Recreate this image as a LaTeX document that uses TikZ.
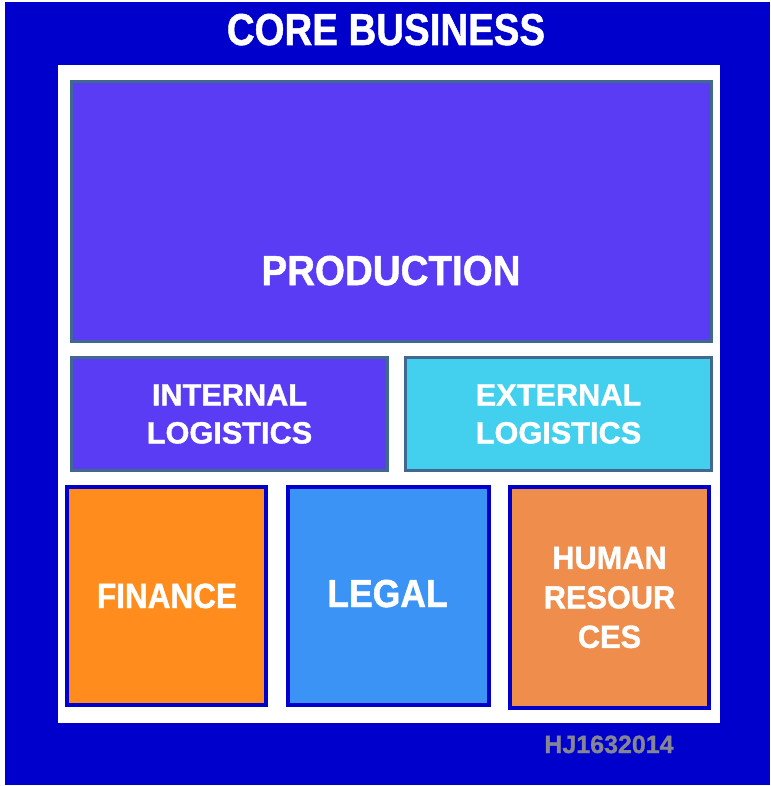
\documentclass[tikz,border=0pt]{standalone}
\usepackage{fontspec}
\setmainfont{Liberation Sans}[BoldFeatures={FakeBold=1.2}]
\definecolor{outerblue}{HTML}{0000CC}
\definecolor{prodc}{HTML}{5A3CF4}
\definecolor{steel}{HTML}{41698F}
\definecolor{extc}{HTML}{42D0EE}
\definecolor{finc}{HTML}{FF8C1C}
\definecolor{legc}{HTML}{3A93F5}
\definecolor{hrc}{HTML}{EE8D4C}
\definecolor{wmark}{HTML}{858595}
\tikzset{
  box/.style={rectangle, inner sep=0pt, outer sep=0pt, text=white, align=center},
  steelbox/.style={box, draw=steel, line width=3pt},
  bluebox/.style={box, draw=outerblue, line width=4pt},
  lbl/.style={text=white, inner sep=0pt, anchor=base},
}
\begin{document}
\begin{tikzpicture}[x=1pt,y=-1pt]
\useasboundingbox (0,0) rectangle (770,786);
\fill[white] (0,0) rectangle (770,786);
\fill[outerblue] (5,2) rectangle (770,785);
\fill[white] (58,65) rectangle (720,723);
\node[lbl, xscale=0.86, font=\bfseries\fontsize{44.7}{50}\selectfont] (title) at (386,45) {CORE BUSINESS};
% production
\node[steelbox, fill=prodc, minimum width=640pt, minimum height=260pt] (prod) at (391.5,211.5) {};
\node[lbl, xscale=0.92, font=\bfseries\fontsize{41.9}{46}\selectfont] (prodtext) at (391,285) {PRODUCTION};
% logistics
\node[steelbox, fill=prodc, minimum width=316pt, minimum height=113pt, font=\bfseries\fontsize{30.7}{38}\selectfont] (intl) at (229.5,414) {INTERNAL\\LOGISTICS};
\node[steelbox, fill=extc, minimum width=306pt, minimum height=113pt, font=\bfseries\fontsize{30.7}{38}\selectfont] (extl) at (558.5,414) {EXTERNAL\\LOGISTICS};
% bottom row
\node[bluebox, fill=finc, minimum width=199pt, minimum height=218pt] (fin) at (166.5,596) {};
\node[lbl, xscale=0.9, font=\bfseries\fontsize{35}{40}\selectfont] (fintext) at (167,608) {FINANCE};
\node[bluebox, fill=legc, minimum width=201pt, minimum height=218pt] (legal) at (388.5,596) {};
\node[lbl, xscale=0.91, font=\bfseries\fontsize{39}{44}\selectfont] (legaltext) at (387.5,607) {LEGAL};
\node[bluebox, fill=hrc, minimum width=199pt, minimum height=221pt] (hr) at (609.5,597.5) {};
\node[lbl, xscale=0.96, font=\bfseries\fontsize{32}{39.5}\selectfont, align=center, anchor=center] (hrtext) at (609.5,597.5) {HUMAN\\RESOUR\\CES};
% watermark
\node[lbl, text=wmark, font=\bfseries\fontsize{25}{30}\selectfont] (wm) at (609,753) {HJ1632014};
\end{tikzpicture}
\end{document}
